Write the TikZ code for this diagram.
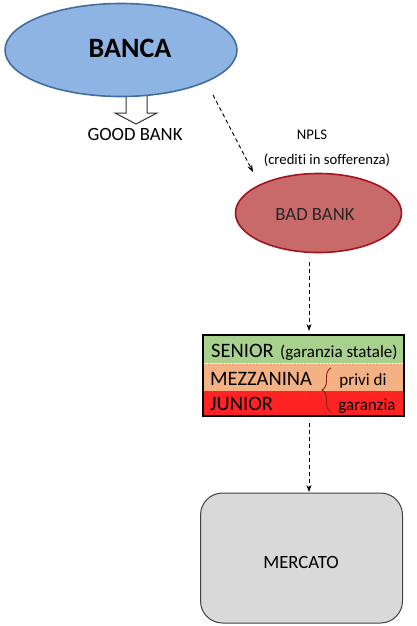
\documentclass[tikz,border=0pt]{standalone}
\usepackage{fontspec}
\setmainfont{Carlito}[Ligatures=NoCommon]
\usetikzlibrary{arrows.meta,decorations.pathreplacing,shapes.geometric}
\definecolor{bancafill}{RGB}{142,180,227}
\definecolor{bancadraw}{RGB}{65,110,160}
\definecolor{badfill}{RGB}{200,106,105}
\definecolor{baddraw}{RGB}{165,20,30}
\definecolor{seniorfill}{RGB}{169,209,142}
\definecolor{mezzfill}{RGB}{244,177,131}
\definecolor{juniorfill}{RGB}{255,35,35}
\definecolor{mercfill}{RGB}{217,217,217}
\definecolor{mercdraw}{RGB}{64,64,64}
\definecolor{bracecol}{RGB}{140,30,20}
\tikzset{
  bigtext/.style={font=\fontsize{18.7}{22}\selectfont},
  smalltext/.style={font=\fontsize{14.7}{17}\selectfont},
  dasharrow/.style={draw=black, line width=0.9pt, dash pattern=on 4pt off 3pt, -{Stealth[length=7pt,width=5pt]}},
  rowbox/.style={draw=none, minimum width=201pt, inner sep=0pt, anchor=north west},
}
\begin{document}
\begin{tikzpicture}[x=1pt,y=-1pt]
\useasboundingbox (0,0) rectangle (416,626);
% block arrow (behind ellipse)
\draw[line width=1pt, fill=white, draw=black!80] (126,86) -- (147,86) -- (147,113) -- (157,113) -- (136,124) -- (115,113) -- (126,113) -- cycle;
% BANCA
\node[ellipse, draw=bancadraw, fill=bancafill, line width=1.6pt, minimum width=232pt, minimum height=93pt, inner sep=0pt] (banca) at (121,50) {};
\node[anchor=base, font=\fontsize{28}{30}\selectfont\bfseries] (bancatxt) at (130,57) {BANCA};
\node[bigtext, anchor=base] (good) at (135,140) {GOOD BANK};
% NPLS labels
\node[smalltext, anchor=base] (npls) at (312,139) {NPLS};
\node[smalltext, anchor=base] (cred) at (327,164) {(crediti in sofferenza)};
% BAD BANK
\node[ellipse, draw=baddraw, fill=badfill, line width=1.6pt, minimum width=166pt, minimum height=79pt, inner sep=0pt] (bad) at (318.5,213) {};
\node[bigtext, anchor=base, text=black!85] (badtxt) at (315,220) {BAD BANK};
% tranche table
\node[rowbox, fill=seniorfill, minimum height=28pt] (senior) at (203,335) {};
\node[rowbox, fill=mezzfill, minimum height=28pt] (mezz) at (203,363) {};
\node[rowbox, fill=juniorfill, minimum height=25pt] (junior) at (203,391) {};
\draw[white!85!yellow, line width=0.8pt, dash pattern=on 1.5pt off 1.5pt] (senior.south west) -- (senior.south east);
\draw[black, line width=2pt] (senior.north west) rectangle (junior.south east);
\node[anchor=base west, inner sep=0pt, font=\fontsize{20.5}{24}\selectfont] (seniortxt) at (211,357) {SENIOR};
\node[anchor=base west, inner sep=0pt, font=\fontsize{17}{20}\selectfont] (garst) at (280,357) {(garanzia statale)};
\node[anchor=base west, inner sep=0pt, font=\fontsize{20.5}{24}\selectfont] (mezztxt) at (210,385) {MEZZANINA};
\node[anchor=base west, inner sep=0pt, font=\fontsize{20.5}{24}\selectfont] (juniortxt) at (210,410) {JUNIOR};
\node[anchor=base, inner sep=0pt, font=\fontsize{17}{20}\selectfont] (privi) at (363,385) {privi di};
\node[anchor=base, inner sep=0pt, font=\fontsize{17}{20}\selectfont] (garanzia) at (367,410) {garanzia};
\draw[bracecol, line width=0.9pt, decorate, decoration={brace, amplitude=9pt, aspect=0.5}] (331,412) -- (331,368);
% MERCATO
\node[draw=mercdraw, fill=mercfill, line width=1pt, rounded corners=22pt, minimum width=202pt, minimum height=130pt, inner sep=0pt] (mercato) at (301.5,558) {};
\node[bigtext, anchor=base] (merctxt) at (301,568) {MERCATO};
% connectors
\coordinate (a1s) at (213,95);
\coordinate (a1e) at (253,172);
\draw[dasharrow] (a1s) -- (a1e);
\coordinate (a2s) at (309,262);
\coordinate (a2e) at (309,331);
\draw[dasharrow] (a2s) -- (a2e);
\coordinate (a3s) at (309,423);
\coordinate (a3e) at (309,492);
\draw[dasharrow] (a3s) -- (a3e);
\end{tikzpicture}
\end{document}
